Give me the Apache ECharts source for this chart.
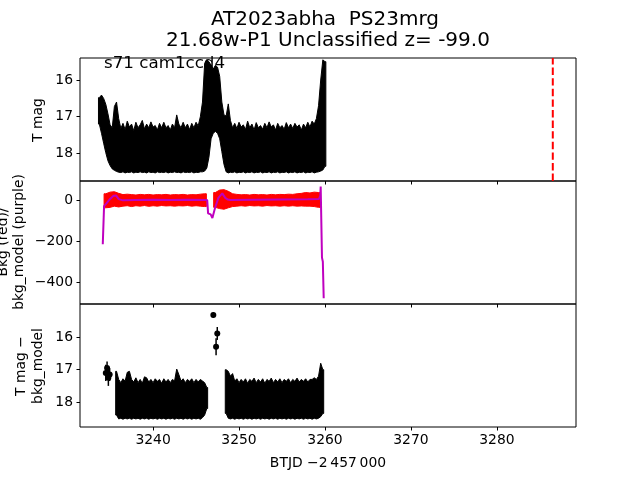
<!DOCTYPE html>
<html><head><meta charset="utf-8">
<script src="https://cdn.jsdelivr.net/npm/echarts@6/dist/echarts.min.js"></script>
<style>html,body{margin:0;padding:0;background:#fff}#c{width:640px;height:480px}</style>
</head><body><div id="c"></div>
<script>
// ---- text ----
const titleLine1 = 'AT2023abha  PS23mrg';
const titleLine2 = '21.68w-P1 Unclassified z= -99.0';
const annotation = 's71 cam1ccd4';
const xLabel = 'BTJD \u22122\u2009457\u2009000';
const xTicks = [3240, 3250, 3260, 3270, 3280];
const magTicks = [16, 17, 18];
const bkgTicks = [0, -200, -400];
const markerTime = [3286.5];

// ---- top panel: T mag envelope [t, bright edge, faint edge] ----
const topBand = [
 [3233.75,16.48,17.20],[3234.00,16.41,17.45],[3234.25,16.50,17.72],[3234.50,16.66,17.98],
 [3234.75,16.92,18.20],[3235.00,17.22,18.33],[3235.25,17.30,18.42],[3235.50,16.72,18.46],
 [3235.75,16.60,18.49],[3236.00,17.05,18.51],[3236.25,17.32,18.52],[3236.50,17.18,18.50],
 [3236.75,17.35,18.53],[3237.00,17.12,18.51],[3237.25,17.28,18.52],[3237.50,17.20,18.50],
 [3237.75,17.38,18.53],[3238.00,17.15,18.51],[3238.25,17.30,18.52],[3238.50,17.22,18.50],
 [3238.75,17.10,18.52],[3239.00,17.33,18.51],[3239.25,17.20,18.53],[3239.50,17.30,18.50],
 [3239.75,17.14,18.52],[3240.00,17.28,18.51],[3240.25,17.24,18.53],[3240.50,17.36,18.50],
 [3240.75,17.18,18.52],[3241.00,17.30,18.51],[3241.25,17.15,18.52],[3241.50,17.30,18.50],
 [3241.75,17.24,18.53],[3242.00,17.36,18.51],[3242.25,17.20,18.52],[3242.50,17.30,18.50],
 [3242.75,16.95,18.52],[3243.00,17.20,18.51],[3243.25,17.30,18.53],[3243.50,17.15,18.50],
 [3243.75,17.30,18.52],[3244.00,17.20,18.51],[3244.25,17.35,18.52],[3244.50,17.18,18.50],
 [3244.75,17.30,18.53],[3245.00,17.15,18.51],[3245.25,17.25,18.52],[3245.50,17.00,18.50],
 [3245.75,16.60,18.50],
 [3246.00,15.55,18.48],[3246.25,15.45,18.40],[3246.50,15.50,18.10],[3246.75,15.60,17.60],
 [3247.00,15.70,17.45],[3247.25,15.60,17.40],[3247.50,15.65,17.45],[3247.75,15.90,17.60],
 [3248.00,16.60,17.95],
 [3248.25,16.95,18.30],[3248.50,16.98,18.50],[3248.75,16.65,18.53],[3249.00,17.10,18.51],
 [3249.25,17.30,18.52],[3249.50,17.18,18.50],[3249.75,17.32,18.53],[3250.00,17.15,18.51],
 [3250.25,17.28,18.52],[3250.50,17.22,18.50],[3250.75,17.35,18.53],[3251.00,17.12,18.51],
 [3251.25,17.30,18.52],[3251.50,17.20,18.50],[3251.75,17.36,18.53],[3252.00,17.16,18.51],
 [3252.25,17.30,18.52],[3252.50,17.24,18.50],[3252.75,17.34,18.53],[3253.00,17.18,18.51],
 [3253.25,17.30,18.52],[3253.50,17.14,18.50],[3253.75,17.28,18.53],[3254.00,17.22,18.51],
 [3254.25,17.36,18.52],[3254.50,17.18,18.50],[3254.75,17.30,18.53],[3255.00,17.24,18.51],
 [3255.25,17.34,18.52],[3255.50,17.16,18.50],[3255.75,17.30,18.53],[3256.00,17.20,18.51],
 [3256.25,17.32,18.52],[3256.50,17.18,18.50],[3256.75,17.28,18.53],[3257.00,17.22,18.51],
 [3257.25,17.36,18.52],[3257.50,17.20,18.50],[3257.75,17.30,18.53],[3258.00,17.15,18.51],
 [3258.25,17.28,18.52],[3258.50,17.12,18.50],[3258.75,17.20,18.53],[3259.00,17.05,18.51],
 [3259.25,16.70,18.50],[3259.50,16.00,18.48],[3259.75,15.45,18.45],[3260.00,15.50,18.35]
];

// ---- middle panel: background flux spread [t, low, high] and model line [t, value] ----
const bkgBand1 = [
 [3234.50,-38,30],[3235.00,-36,38],[3235.50,-30,40],[3236.00,-34,32],[3236.50,-30,26],
 [3237.00,-28,28],[3237.50,-32,26],[3238.00,-28,24],[3238.50,-30,27],[3239.00,-27,25],
 [3239.50,-31,27],[3240.00,-28,24],[3240.50,-30,26],[3241.00,-27,25],[3241.50,-29,27],
 [3242.00,-28,24],[3242.50,-30,26],[3243.00,-28,25],[3243.50,-29,27],[3244.00,-27,24],
 [3244.50,-30,26],[3245.00,-28,25],[3245.50,-30,28],[3246.00,-32,30]
];
const bkgBand2 = [
 [3247.25,-36,36],[3247.75,-42,48],[3248.25,-45,50],[3248.75,-38,42],[3249.25,-32,30],
 [3249.75,-30,27],[3250.25,-28,25],[3250.75,-30,26],[3251.25,-27,24],[3251.75,-29,27],
 [3252.25,-28,25],[3252.75,-30,26],[3253.25,-27,24],[3253.75,-29,27],[3254.25,-28,25],
 [3254.75,-30,27],[3255.25,-28,26],[3255.75,-30,28],[3256.25,-28,27],[3256.75,-30,30],
 [3257.25,-29,32],[3257.75,-30,36],[3258.25,-30,34],[3258.75,-32,38],[3259.25,-36,36]
];
const bkgModel = [
 [3234.15,-215],[3234.30,-30],[3234.60,-15],[3235.00,5],[3235.40,20],[3235.70,22],[3236.00,4],
 [3236.50,-2],[3238.00,0],[3240.00,1],[3242.00,0],[3244.00,1],[3246.30,0],[3246.40,-65],
 [3246.70,-70],[3246.90,-88],[3247.20,-40],[3247.60,10],[3248.05,32],[3248.40,10],[3248.70,2],
 [3249.00,0],[3252.00,1],[3255.00,2],[3258.00,3],[3259.30,5],[3259.45,20],[3259.50,65],
 [3259.60,60],[3259.65,-280],[3259.75,-300],[3259.85,-477]
];

// ---- bottom panel: T mag - bkg_model envelope and isolated points [t, mag, err] ----
const diffBand1 = [
 [3235.75,17.05,18.40],[3236.00,17.30,18.52],[3236.25,17.40,18.50],[3236.50,17.28,18.53],
 [3236.75,17.35,18.50],[3237.00,17.08,18.52],[3237.25,17.05,18.50],[3237.50,17.30,18.53],
 [3237.75,17.38,18.50],[3238.00,17.25,18.52],[3238.25,17.40,18.50],[3238.50,17.30,18.53],
 [3238.75,17.42,18.50],[3239.00,17.22,18.52],[3239.25,17.25,18.50],[3239.50,17.38,18.53],
 [3239.75,17.30,18.50],[3240.00,17.40,18.52],[3240.25,17.28,18.50],[3240.50,17.36,18.53],
 [3240.75,17.30,18.50],[3241.00,17.42,18.52],[3241.25,17.28,18.50],[3241.50,17.38,18.53],
 [3241.75,17.30,18.50],[3242.00,17.40,18.52],[3242.25,17.30,18.50],[3242.50,17.35,18.53],
 [3242.75,16.98,18.50],[3243.00,17.15,18.52],[3243.25,17.35,18.50],[3243.50,17.28,18.53],
 [3243.75,17.40,18.50],[3244.00,17.30,18.52],[3244.25,17.36,18.50],[3244.50,17.28,18.53],
 [3244.75,17.40,18.50],[3245.00,17.30,18.52],[3245.25,17.38,18.50],[3245.50,17.30,18.53],
 [3245.75,17.35,18.48],[3246.00,17.40,18.40],[3246.25,17.55,18.20]
];
const diffBand2 = [
 [3248.50,17.00,18.35],[3248.75,17.05,18.50],[3249.00,17.20,18.52],[3249.25,17.12,18.50],
 [3249.50,17.35,18.53],[3249.75,17.28,18.50],[3250.00,17.40,18.52],[3250.25,17.30,18.50],
 [3250.50,17.38,18.53],[3250.75,17.28,18.50],[3251.00,17.42,18.52],[3251.25,17.30,18.50],
 [3251.50,17.36,18.53],[3251.75,17.26,18.50],[3252.00,17.40,18.52],[3252.25,17.30,18.50],
 [3252.50,17.38,18.53],[3252.75,17.28,18.50],[3253.00,17.42,18.52],[3253.25,17.30,18.50],
 [3253.50,17.36,18.53],[3253.75,17.26,18.50],[3254.00,17.40,18.52],[3254.25,17.30,18.50],
 [3254.50,17.38,18.53],[3254.75,17.28,18.50],[3255.00,17.40,18.52],[3255.25,17.30,18.50],
 [3255.50,17.36,18.53],[3255.75,17.28,18.50],[3256.00,17.40,18.52],[3256.25,17.30,18.50],
 [3256.50,17.36,18.53],[3256.75,17.26,18.50],[3257.00,17.38,18.52],[3257.25,17.30,18.50],
 [3257.50,17.36,18.53],[3257.75,17.28,18.50],[3258.00,17.38,18.52],[3258.25,17.30,18.50],
 [3258.50,17.30,18.53],[3258.75,17.25,18.50],[3259.00,17.30,18.52],[3259.25,17.20,18.50],
 [3259.50,16.80,18.45],[3259.75,17.00,18.35]
];
const diffPoints = [
 [3234.50,17.10,0.25],[3234.65,16.95,0.20],[3234.80,17.25,0.25],[3234.95,17.15,0.20],
 [3247.01,15.31,0.08],[3247.47,15.88,0.20],[3247.33,16.29,0.26]
];

const FONT = 'DejaVu Sans';
const fmt = v => String(v).replace('-', '\u2212');

// one filled outline per segment: bright edge forward, faint edge back
function polyItem(rows, color, hw) {
  return function (params, api) {
    if (params.dataIndex !== 0) return null;
    const first = rows[0], last = rows[rows.length - 1];
    const pts = [api.coord([first[0] - hw, first[1]])];
    rows.forEach(r => pts.push(api.coord([r[0], r[1]])));
    pts.push(api.coord([last[0] + hw, last[1]]));
    pts.push(api.coord([last[0] + hw, last[2]]));
    for (let i = rows.length - 1; i >= 0; i--) pts.push(api.coord([rows[i][0], rows[i][2]]));
    pts.push(api.coord([first[0] - hw, first[2]]));
    return { type: 'polygon', shape: { points: pts }, style: { fill: color, stroke: color, lineWidth: 1 } };
  };
}
function errItem(params, api) {
  const t = api.value(0), v = api.value(1), e = api.value(2);
  const a = api.coord([t, v - e]), b = api.coord([t, v + e]), c = api.coord([t, v]);
  return { type: 'group', children: [
    { type: 'line', shape: { x1: a[0], y1: a[1], x2: b[0], y2: b[1] }, style: { stroke: '#000', lineWidth: 1.5 } },
    { type: 'circle', shape: { cx: c[0], cy: c[1], r: 3 }, style: { fill: '#000' } }
  ] };
}
function band(rows, color, hw, xi) {
  return { type: 'custom', xAxisIndex: xi, yAxisIndex: xi, clip: true, silent: true,
    renderItem: polyItem(rows, color, hw), data: rows, encode: { x: 0, y: [1, 2] } };
}

const tops = [58, 181, 304];
const grids = tops.map(t => ({ left: 80, width: 496, top: t, height: 123, show: true,
  borderColor: '#000', borderWidth: 1, backgroundColor: 'transparent' }));

const xAxes = [0, 1, 2].map(i => ({
  type: 'value', gridIndex: i, min: 3231.5, max: 3289.2,
  axisLine: { show: false, onZero: false }, splitLine: { show: false },
  axisTick: { show: true, length: 3.5, inside: false, customValues: xTicks, lineStyle: { color: '#000', width: 1 } },
  axisLabel: { show: i === 2, customValues: xTicks, margin: 6, color: '#000', fontFamily: FONT, fontSize: 13.9, formatter: fmt }
}));
function yAx(i, min, max, inv, ticks) {
  return { type: 'value', gridIndex: i, min: min, max: max, inverse: inv,
    axisLine: { show: false, onZero: false }, splitLine: { show: false },
    axisTick: { show: true, length: 3.5, customValues: ticks, lineStyle: { color: '#000', width: 1 } },
    axisLabel: { show: true, customValues: ticks, margin: 7, color: '#000', fontFamily: FONT, fontSize: 13.9, formatter: fmt } };
}
const yAxes = [yAx(0, 15.4, 18.75, true, magTicks), yAx(1, -505, 92, false, bkgTicks), yAx(2, 14.97, 18.77, true, magTicks)];

function txt(x, y, s, size, rot) {
  return { type: 'text', x: x, y: y, rotation: rot || 0,
    style: { text: s, fontFamily: FONT, fontSize: size, fill: '#000', align: 'center', verticalAlign: 'middle' } };
}

const chart = echarts.init(document.getElementById('c'), null, { renderer: 'canvas' });
chart.setOption({
  animation: false,
  backgroundColor: '#fff',
  grid: grids, xAxis: xAxes, yAxis: yAxes,
  series: [
    band(topBand, '#000', 0.1, 0),
    { type: 'line', xAxisIndex: 0, yAxisIndex: 0, showSymbol: false, silent: true,
      data: [[markerTime[0], 18.75], [markerTime[0], 15.4]],
      lineStyle: { color: '#ff0000', width: 2, type: [7.4, 3.2] } },
    band(bkgBand1, '#ff0000', 0.2, 1),
    band(bkgBand2, '#ff0000', 0.2, 1),
    { type: 'line', xAxisIndex: 1, yAxisIndex: 1, showSymbol: false, silent: true, clip: true,
      data: bkgModel, lineStyle: { color: '#bf00bf', width: 2 }, z: 5 },
    band(diffBand1, '#000', 0.1, 2),
    band(diffBand2, '#000', 0.1, 2),
    { type: 'custom', xAxisIndex: 2, yAxisIndex: 2, clip: true, renderItem: errItem, data: diffPoints, encode: { x: 0, y: 1 } }
  ],
  graphic: [
    txt(325, 20, titleLine1, 20),
    txt(328, 41, titleLine2, 20),
    { type: 'text', x: 104, y: 64, style: { text: annotation, fontFamily: FONT, fontSize: 16.7, fill: '#000', align: 'left', verticalAlign: 'middle' }, z: 10 },
    txt(38, 120, 'T mag', 13.9, Math.PI / 2),
    txt(3, 242, 'Bkg (red)/', 13.9, Math.PI / 2),
    txt(19, 242, 'bkg_model (purple)', 13.9, Math.PI / 2),
    txt(21, 366, 'T mag \u2212', 13.9, Math.PI / 2),
    txt(38, 366, 'bkg_model', 13.9, Math.PI / 2),
    txt(328, 463, xLabel, 13.9)
  ]
});
</script></body></html>
